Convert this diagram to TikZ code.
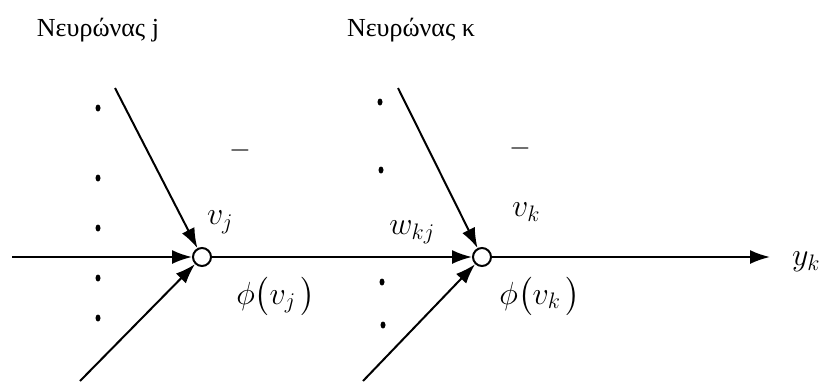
\RequirePackage{fix-cm}
\documentclass[tikz,border=0pt]{standalone}
\usepackage{amsmath,amssymb}
\usepackage{fontspec}
\newfontfamily\greekfont{Liberation Serif}
\usetikzlibrary{arrows.meta,positioning,shapes.geometric}

\begin{document}
\begin{tikzpicture}[
  x=1pt, y=-1pt,
  neuron/.style={draw, circle, line width=2pt, minimum size=18pt, inner sep=0pt, fill=white},
  dotmark/.style={fill, ellipse, minimum width=5pt, minimum height=7pt, inner sep=0pt},
  title/.style={font=\greekfont\fontsize{26}{30}\selectfont},
  lbl/.style={font=\fontsize{32}{36}\selectfont, inner sep=0pt},
  barlbl/.style={font=\fontsize{28}{32}\selectfont, inner sep=0pt},
  >={Latex[length=20pt,width=14pt]},
  every path/.style={line width=2pt}
]
  \useasboundingbox (0,0) rectangle (827,381);

  \node[title] (titlej) at (98, 30)  {Νευρώνας j};
  \node[title] (titlek) at (411, 30) {Νευρώνας κ};

  \node[neuron] (nj) at (202, 257) {};
  \node[neuron] (nk) at (482, 257) {};

  % input ends
  \coordinate (inj0) at (12, 257);
  \coordinate (inj1) at (115, 88);
  \coordinate (inj2) at (80, 381);
  \coordinate (ink1) at (398, 88);
  \coordinate (ink2) at (363, 381);
  \coordinate (out)  at (770, 257);

  \draw[->] (inj0) -- (nj);
  \draw[->] (inj1) -- (nj);
  \draw[->] (inj2) -- (nj);
  \draw[->] (nj) -- (nk);
  \draw[->] (ink1) -- (nk);
  \draw[->] (ink2) -- (nk);
  \draw[->] (nk) -- (out);

  % dots
  \foreach \y [count=\i] in {108,178,228,278,318}
    \node[dotmark] (dj\i) at (98, \y) {};
  \foreach \y/\x [count=\i] in {102/380,170/381,282/382,325/383}
    \node[dotmark] (dk\i) at (\x, \y) {};

  % labels
  \node[barlbl] (barj) at (240, 150) {$-$};
  \node[barlbl] (bark) at (520, 148) {$-$};
  \node[lbl] (vj)   at (220, 222) {$v_j$};
  \node[lbl] (vk)   at (526, 212) {$v_k$};
  \node[lbl] (wkj)  at (412, 232) {$w_{kj}$};
  \node[lbl] (phij) at (276, 296) {$\phi\bigl(v_j\,\bigr)$};
  \node[lbl] (phik) at (540, 296) {$\phi\bigl(v_k\,\bigr)$};
  \node[lbl] (yk)   at (806, 262) {$y_k$};
\end{tikzpicture}
\end{document}
